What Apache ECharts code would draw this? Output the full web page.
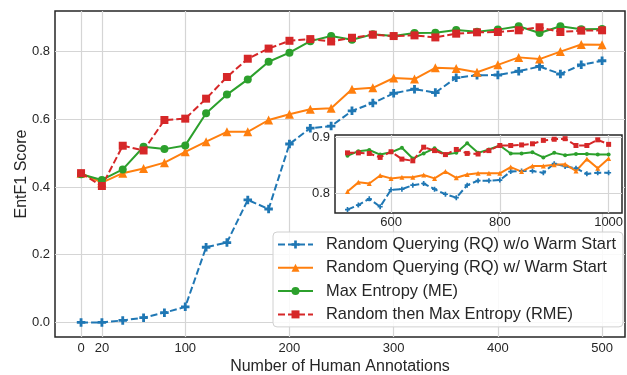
<!DOCTYPE html>
<html>
<head>
<meta charset="utf-8">
<script src="https://cdn.jsdelivr.net/npm/echarts@6/dist/echarts.min.js"></script>
<style>html,body{margin:0;padding:0;background:#fff;}#c{width:627px;height:375px;}</style>
</head>
<body>
<div id="c"></div>
<script>
// ---- data ----
const seriesNames = ['Random Querying (RQ) w/o Warm Start','Random Querying (RQ) w/ Warm Start','Max Entropy (ME)','Random then Max Entropy (RME)'];
const mainSteps = [0,20,40,60,80,100,120,140,160,180,200,220,240,260,280,300,320,340,360,380,400,420,440,460,480,500];
const rqNoWarm = [0.000,0.000,0.006,0.014,0.029,0.046,0.222,0.236,0.362,0.335,0.527,0.574,0.580,0.625,0.648,0.677,0.689,0.679,0.723,0.730,0.731,0.742,0.756,0.734,0.761,0.773];
const rqWarm = [0.441,0.413,0.441,0.455,0.472,0.504,0.534,0.563,0.563,0.598,0.615,0.630,0.633,0.689,0.693,0.722,0.719,0.752,0.750,0.739,0.761,0.783,0.778,0.800,0.821,0.820];
const me = [0.438,0.421,0.452,0.519,0.512,0.523,0.618,0.673,0.718,0.770,0.797,0.831,0.846,0.835,0.851,0.846,0.855,0.856,0.864,0.859,0.865,0.875,0.855,0.875,0.866,0.867];
const rme = [0.441,0.403,0.522,0.508,0.598,0.602,0.661,0.725,0.779,0.809,0.832,0.837,0.830,0.841,0.850,0.846,0.848,0.842,0.853,0.857,0.858,0.863,0.872,0.858,0.862,0.863];

const insetSteps = [520,540,560,580,600,620,640,660,680,700,720,740,760,780,800,820,840,860,880,900,920,940,960,980,1000];
const insetRqNoWarm = [0.772,0.780,0.791,0.777,0.807,0.808,0.815,0.818,0.808,0.799,0.793,0.815,0.823,0.823,0.824,0.839,0.840,0.840,0.837,0.853,0.848,0.845,0.835,0.837,0.837];
const insetRqWarm = [0.804,0.820,0.818,0.832,0.827,0.829,0.829,0.833,0.827,0.839,0.828,0.834,0.836,0.836,0.836,0.847,0.839,0.849,0.849,0.851,0.852,0.840,0.861,0.845,0.862];
const insetMe = [0.867,0.875,0.877,0.869,0.873,0.881,0.862,0.871,0.880,0.869,0.872,0.889,0.872,0.878,0.885,0.871,0.871,0.873,0.864,0.872,0.868,0.870,0.870,0.869,0.869];
const insetRme = [0.872,0.872,0.871,0.864,0.874,0.861,0.858,0.882,0.876,0.869,0.878,0.871,0.870,0.876,0.885,0.885,0.886,0.888,0.894,0.896,0.897,0.885,0.885,0.895,0.887];

const mainXTicks = [0,20,100,200,300,400,500];
const mainYTicks = [0,0.2,0.4,0.6,0.8];
const insetXTicks = [600,800,1000];
const insetYTicks = [0.8,0.9];

// ---- styling ----
const FONT = 'Liberation Sans, Arial, sans-serif';
const TXT = '#262626';
const GRIDC = '#d5d5d5';
const colors = ['#1f77b4','#ff7f0e','#2ca02c','#d62728'];
const plusPath = 'path://M2,0H4V2H6V4H4V6H2V4H0V2H2Z';
const symbols = [plusPath,'triangle','circle','rect'];
const mainSizes = [8.5,9,8,8];
const insetSizes = [5,5,4,5];
const dashes = [[7,3],'solid','solid',[7,3]];
const mainData = [rqNoWarm,rqWarm,me,rme];
const insetData = [insetRqNoWarm,insetRqWarm,insetMe,insetRme];

function zip(xs, ys){ return xs.map((x,i)=>[x,ys[i]]); }

const series = [];
for (let i=0;i<4;i++){
  series.push({
    name: seriesNames[i], type:'line', xAxisIndex:0, yAxisIndex:0,
    data: zip(mainSteps, mainData[i]),
    symbol: symbols[i], symbolSize: mainSizes[i], showSymbol:true,
    lineStyle:{color:colors[i], width:2, type:dashes[i]},
    itemStyle:{color:colors[i]}, z:3, animation:false
  });
}
for (let i=0;i<4;i++){
  series.push({
    name: seriesNames[i], type:'line', xAxisIndex:1, yAxisIndex:1,
    data: zip(insetSteps, insetData[i]),
    symbol: symbols[i], symbolSize: insetSizes[i], showSymbol:true,
    lineStyle:{color:colors[i], width:2, type:dashes[i]},
    itemStyle:{color:colors[i]}, z:8, animation:false
  });
}

const chart = echarts.init(document.getElementById('c'), null, {renderer:'canvas'});
chart.setOption({
  animation:false,
  backgroundColor:'#fff',
  textStyle:{fontFamily:FONT},
  grid:[
    {left:55, top:11, right:2, bottom:38, show:true, borderColor:'#262626', borderWidth:1.5, backgroundColor:'#fff', z:0, outerBoundsMode:'none', containLabel:false},
    {left:335, top:135, width:287, height:78, show:true, borderColor:'#262626', borderWidth:1.5, backgroundColor:'#fff', z:5, outerBoundsMode:'none', containLabel:false}
  ],
  xAxis:[
    {type:'value', gridIndex:0, min:-25, max:522,
      name:'Number of Human Annotations', nameLocation:'middle', nameGap:22, nameMoveOverlap:false,
      nameTextStyle:{fontSize:16, color:TXT, fontFamily:FONT},
      axisLine:{show:false}, axisTick:{show:false, customValues:mainXTicks},
      axisLabel:{customValues:mainXTicks, fontSize:13, color:TXT, margin:5, fontFamily:FONT, formatter:v=>String(v)},
      splitLine:{show:true, lineStyle:{color:GRIDC, width:1.2}}},
    {type:'value', gridIndex:1, min:497, max:1024.6, z:6,
      axisLine:{show:false}, axisTick:{show:false, customValues:insetXTicks},
      axisLabel:{customValues:insetXTicks, fontSize:13, color:TXT, margin:3, fontFamily:FONT, formatter:v=>String(v)},
      splitLine:{show:true, lineStyle:{color:GRIDC, width:1.2}}}
  ],
  yAxis:[
    {type:'value', gridIndex:0, min:-0.043, max:0.92,
      name:'EntF1 Score', nameLocation:'middle', nameGap:25, nameMoveOverlap:false,
      nameTextStyle:{fontSize:16, color:TXT, fontFamily:FONT},
      axisLine:{show:false}, axisTick:{show:false, customValues:mainYTicks},
      axisLabel:{customValues:mainYTicks, fontSize:13, color:TXT, margin:5, fontFamily:FONT, formatter:v=>v.toFixed(1)},
      splitLine:{show:true, lineStyle:{color:GRIDC, width:1.2}}},
    {type:'value', gridIndex:1, min:0.766, max:0.9035, z:6,
      axisLine:{show:false}, axisTick:{show:false, customValues:insetYTicks},
      axisLabel:{customValues:insetYTicks, fontSize:13, color:TXT, margin:5, fontFamily:FONT, formatter:v=>v.toFixed(1)},
      splitLine:{show:true, lineStyle:{color:GRIDC, width:1.2}}}
  ],
  legend:{
    data:seriesNames, orient:'vertical', left:273, top:232, z:20,
    itemWidth:35, itemHeight:10, itemGap:7.3,
    padding:[4.5,7,4.5,4],
    backgroundColor:'rgba(255,255,255,0.85)', borderColor:'#d0d0d0', borderWidth:1, borderRadius:4,
    textStyle:{fontSize:16.4, color:TXT, fontFamily:FONT, lineHeight:16, padding:[0,0,0,8]}
  },
  series: series
});
</script>
</body>
</html>
